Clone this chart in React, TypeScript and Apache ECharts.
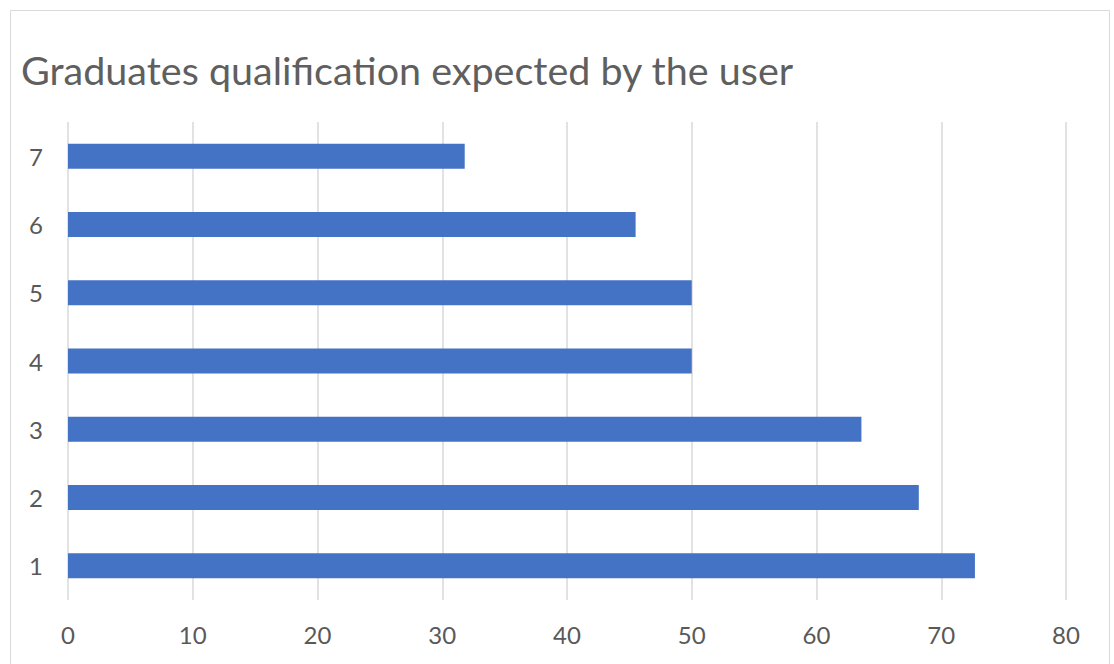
import React, { useEffect, useRef } from "react";
import * as echarts from "echarts";

const categories = ["1", "2", "3", "4", "5", "6", "7"];
const values = [72.7, 68.2, 63.6, 50, 50, 45.5, 31.8];
const titleText = "Graduates qualification expected by the user";

export default function App() {
  const ref = useRef<HTMLDivElement>(null);
  useEffect(() => {
    if (!ref.current) return;
    const chart = echarts.init(ref.current, null, { renderer: "svg" });
    chart.setOption({
      animation: false,
      backgroundColor: "#ffffff",
      title: {
        text: titleText,
        left: 16,
        top: 44,
        textStyle: { fontFamily: "Lato", fontSize: 39.5, fontWeight: "normal", color: "#5f5f5f" },
      },
      graphic: [
        {
          type: "rect",
          shape: { x: 10.5, y: 10.5, width: 1099, height: 700 },
          style: { fill: "none", stroke: "#d9d9d9", lineWidth: 1 },
          silent: true,
          z: -1,
        },
      ],
      grid: { left: 68, right: 48, top: 122, bottom: 64, containLabel: false },
      xAxis: {
        type: "value",
        min: 0,
        max: 80,
        interval: 10,
        axisLine: { show: false },
        axisTick: { show: false },
        axisLabel: { margin: 22, fontFamily: "Lato", fontSize: 24, color: "#595959" },
        splitLine: { show: true, lineStyle: { color: "#d9d9d9", width: 1.5 } },
      },
      yAxis: {
        type: "category",
        data: categories,
        axisLine: { show: false },
        axisTick: { show: false },
        axisLabel: { margin: 25, fontFamily: "Lato", fontSize: 24, color: "#595959" },
        splitLine: { show: false },
      },
      series: [
        {
          type: "bar",
          data: values,
          barWidth: 25,
          itemStyle: { color: "#4472C4" },
        },
      ],
    });
    return () => chart.dispose();
  }, []);
  return (
    <div
      ref={ref}
      style={{ position: "fixed", left: 0, top: 0, width: 1114, height: 664 }}
    />
  );
}
